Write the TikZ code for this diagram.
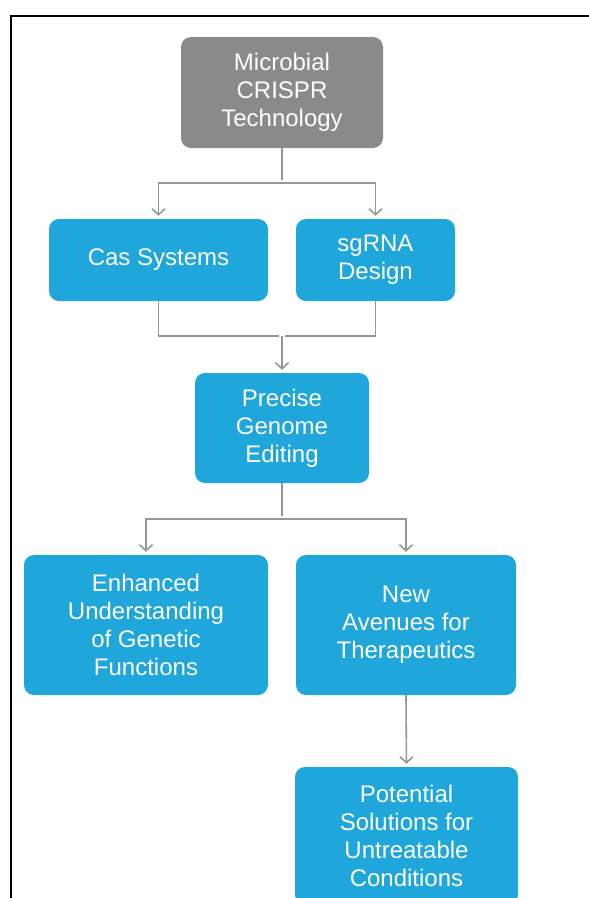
\documentclass[tikz,border=0pt]{standalone}
\usepackage{fontspec}
\setmainfont{Liberation Sans}
\usetikzlibrary{arrows.meta}
\definecolor{boxblue}{RGB}{31,166,218}
\definecolor{boxgray}{RGB}{138,138,138}
\definecolor{linegray}{RGB}{150,150,150}
\begin{document}
\begin{tikzpicture}[x=1pt, y=-1pt, >={Straight Barb[length=6pt,width=13pt]},
      main/.style = {rectangle, rounded corners=10pt, fill=boxblue, text=white, align=center,
                     font=\fontsize{24}{28}\selectfont, inner sep=0pt},
      top/.style = {main, fill=boxgray},
      link/.style = {draw=linegray, line width=1.6pt, shorten >=3pt}]
      \useasboundingbox (0,0) rectangle (589,898);
      \clip (0,0) rectangle (589,898);

      \node[top] (tech) at (282,92.5) [minimum width=202pt, minimum height=111pt] {Microbial\\CRISPR\\Technology};
      \node[main] (cas) at (158.5,260) [minimum width=219pt, minimum height=82pt] {Cas Systems};
      \node[main] (sgrna) at (375.5,260) [minimum width=159pt, minimum height=82pt] {sgRNA\\Design};
      \node[main] (edit) at (282,428) [minimum width=174pt, minimum height=110pt] {Precise\\Genome\\Editing};
      \node[main] (under) at (146,625) [minimum width=244pt, minimum height=140pt] {Enhanced\\Understanding\\of Genetic\\Functions};
      \node[main] (avenue) at (406,625) [minimum width=220pt, minimum height=140pt] {New\\Avenues for\\Therapeutics};
      \node[main] (solve) at (406.5,836) [minimum width=223pt, minimum height=138pt] {Potential\\Solutions for\\Untreatable\\Conditions};

      \coordinate (split1) at (282,183);
      \coordinate (join1) at (282,336);
      \coordinate (split2) at (282,519);

      \draw[link] (tech.south) to (split1);
      \draw[link, ->] (split1) -| (cas.north);
      \draw[link, ->] (split1) -| (sgrna.north);

      \draw[link] (cas.south) |- (join1);
      \draw[link] (sgrna.south) |- (join1);
      \draw[link, ->] (join1) to (edit.north);

      \draw[link] (edit.south) to (split2);
      \draw[link, ->] (split2) -| (under.north);
      \draw[link, ->] (split2) -| (avenue.north);

      \draw[link, ->] (avenue.south) to (solve.north);

      % frame, cut off at the right and bottom
      \draw[line width=2pt] (11,900) -- (11,16) -- (592,16);
      \end{tikzpicture}
\end{document}
